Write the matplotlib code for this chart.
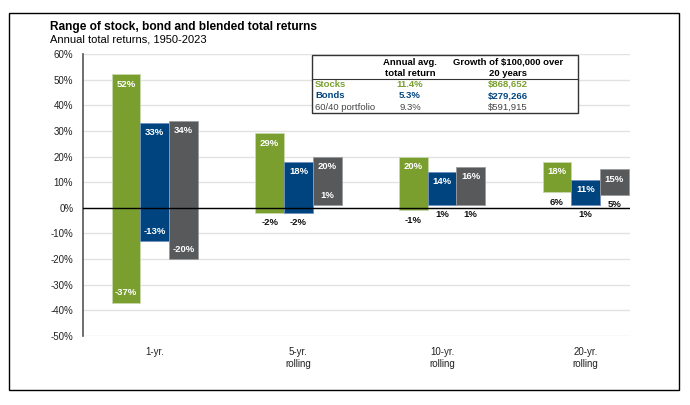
import matplotlib

matplotlib.use("Agg")
import matplotlib.pyplot as plt
import numpy as np
from matplotlib.patches import Rectangle
from matplotlib.lines import Line2D

plt.rcParams["font.family"] = ["Liberation Sans", "DejaVu Sans"]

periods = ["1-yr.", "5-yr.\nrolling", "10-yr.\nrolling", "20-yr.\nrolling"]
series = ["Stocks", "Bonds", "60/40 portfolio"]
stock_low = [-37, -2, -1, 6]
stock_high = [52, 29, 20, 18]
bond_low = [-13, -2, 1, 1]
bond_high = [33, 18, 14, 11]
blend_low = [-20, 1, 1, 5]
blend_high = [34, 20, 16, 15]
avg_return = ["11.4%", "5.3%", "9.3%"]
growth = ["$868,652", "$279,266", "$591,915"]

GREEN = "#7a9f2f"
BLUE = "#00447f"
GRAY = "#58595b"
colors = [GREEN, BLUE, GRAY]
edges = ["#c8d8b0", "#6f90c0", "#9a9b9d"]
text_colors = [GREEN, BLUE, "#444444"]

fig = plt.figure(figsize=(6.9, 4.05), dpi=100)
ax = fig.add_axes([0.1203, 0.1704, 0.793, 0.6963])

x = np.arange(len(periods))
width = 0.2
lows = [stock_low, bond_low, blend_low]
highs = [stock_high, bond_high, blend_high]

for i in range(3):
    xs = x + (i - 1) * width
    lo = np.array(lows[i])
    hi = np.array(highs[i])
    ax.bar(xs, hi - lo, width, bottom=lo, color=colors[i],
           edgecolor=edges[i], linewidth=0.6, zorder=2)
    for xx, l, h in zip(xs, lo, hi):
        ax.annotate(f"{h}%", (xx, h), xytext=(0, -7), textcoords="offset points",
                    ha="center", va="center", color="white", fontsize=6.8,
                    fontweight="bold", zorder=4)
        # low label sits inside the bar when there is room and it is clear of the zero line
        if l <= -10 or (l >= 0 and h - l > 17):
            ax.annotate(f"{l}%", (xx, l), xytext=(0, 7), textcoords="offset points",
                        ha="center", va="center", color="white", fontsize=6.8,
                        fontweight="bold", zorder=4)
        else:
            ax.annotate(f"{l}%", (xx, l), xytext=(0, -7), textcoords="offset points",
                        ha="center", va="center", color="#111111", fontsize=6.8,
                        fontweight="bold", zorder=4)

ax.set_xlim(-0.5, 3.31)
ax.set_ylim(-50, 60)
ax.set_yticks(np.arange(-50, 61, 10))
ax.set_yticklabels([f"{v}%" for v in range(-50, 61, 10)])
ax.set_xticks(x)
ax.set_xticklabels(periods, va="top", linespacing=1.2)
ax.tick_params(axis="both", length=0, labelsize=7, colors="#222222")
ax.tick_params(axis="x", pad=8)
ax.tick_params(axis="y", pad=7)
ax.grid(axis="y", color="#e2e2e2", linewidth=1.0, zorder=0)
ax.axhline(0, color="black", linewidth=1.0, zorder=3)
for s in ["top", "right", "bottom"]:
    ax.spines[s].set_visible(False)
ax.spines["left"].set_color("#555555")
ax.spines["left"].set_linewidth(1.2)

# outer frame
fig.patches.append(Rectangle((0.013, 0.037), 0.971, 0.931, transform=fig.transFigure,
                             fill=False, edgecolor="black", linewidth=1.0))

fig.text(0.072, 1 - 27 / 405, "Range of stock, bond and blended total returns",
         fontsize=8.6, fontweight="bold", va="center")
fig.text(0.072, 1 - 39 / 405, "Annual total returns, 1950-2023", fontsize=8, va="center")


# summary table
def fx(px):
    return px / 690


def fy(py):
    return 1 - py / 405


fig.patches.append(Rectangle((fx(312), fy(113)), fx(578) - fx(312), fy(55) - fy(113),
                             transform=fig.transFigure, facecolor="white",
                             edgecolor="#333333", linewidth=1.0, zorder=5))
fig.lines.append(Line2D([fx(312), fx(578)], [fy(79), fy(79)], transform=fig.transFigure,
                        color="#333333", linewidth=0.8, zorder=6))
fig.text(fx(410), fy(62.5), "Annual avg.", fontsize=6.8, fontweight="bold",
         ha="center", va="center", zorder=7)
fig.text(fx(410), fy(73), "total return", fontsize=6.8, fontweight="bold",
         ha="center", va="center", zorder=7)
fig.text(fx(508), fy(62.5), "Growth of $100,000 over", fontsize=6.8, fontweight="bold",
         ha="center", va="center", zorder=7)
fig.text(fx(508), fy(73), "20 years", fontsize=6.8, fontweight="bold",
         ha="center", va="center", zorder=7)
row_y = [84.5, 96, 107]
for i in range(3):
    w = "bold" if i < 2 else "normal"
    fig.text(fx(315), fy(row_y[i]), series[i], fontsize=6.8, fontweight=w,
             color=text_colors[i], va="center", zorder=7)
    fig.text(fx(410), fy(row_y[i]), avg_return[i], fontsize=6.8, fontweight=w,
             color=text_colors[i], ha="center", va="center", zorder=7)
    fig.text(fx(508), fy(row_y[i]), growth[i], fontsize=6.8, fontweight=w,
             color=text_colors[i], ha="center", va="center", zorder=7)

fig.savefig("out.png", dpi=100)
